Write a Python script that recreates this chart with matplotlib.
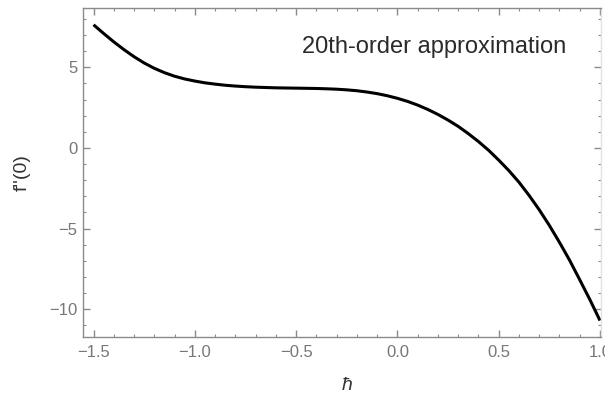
import matplotlib
matplotlib.use("Agg")
import matplotlib.pyplot as plt
from matplotlib.ticker import MultipleLocator

plt.rcParams['font.family'] = ['Liberation Sans', 'DejaVu Sans']

# Data
hbar = [-1.5, -1.45, -1.4, -1.35, -1.3, -1.25, -1.2, -1.15, -1.1, -1.05,
        -1.0, -0.95, -0.9, -0.85, -0.8, -0.75, -0.7, -0.65, -0.6, -0.55,
        -0.5, -0.45, -0.4, -0.35, -0.3, -0.25, -0.2, -0.15, -0.1, -0.05,
        0.0, 0.05, 0.1, 0.15, 0.2, 0.25, 0.3, 0.35, 0.4, 0.45,
        0.5, 0.55, 0.6, 0.65, 0.7, 0.75, 0.8, 0.85, 0.9, 0.95, 1.0]
fpp0 = [7.64, 7.10, 6.58, 6.10, 5.66, 5.27, 4.94, 4.67, 4.45, 4.28,
        4.15, 4.04, 3.96, 3.89, 3.84, 3.80, 3.77, 3.75, 3.73, 3.72,
        3.71, 3.70, 3.69, 3.67, 3.645, 3.605, 3.55, 3.47, 3.37, 3.24,
        3.08, 2.89, 2.66, 2.39, 2.08, 1.73, 1.34, 0.89, 0.40, -0.14,
        -0.75, -1.40, -2.12, -2.94, -3.83, -4.80, -5.85, -6.96, -8.17, -9.40, -10.70]
x_ticks = [-1.5, -1.0, -0.5, 0.0, 0.5, 1.0]
y_ticks = [-10, -5, 0, 5]
annotation = "20th-order approximation"

fig = plt.figure(figsize=(6.05, 3.97), dpi=100)
W, H = 605, 397
ax = fig.add_axes([83 / W, 1 - 337 / H, (601 - 83) / W, (337 - 8) / H])

ax.plot(hbar, fpp0, color='black', lw=2.2, solid_capstyle='butt')

ax.set_xlim(-1.552, 1.005)
ax.set_ylim(-11.72, 8.68)
ax.set_xticks(x_ticks)
ax.set_xticklabels([f"{v:.1f}".replace('-', '\u2212') for v in x_ticks])
ax.set_yticks(y_ticks)
ax.set_yticklabels([str(v).replace('-', '\u2212') for v in y_ticks])
ax.xaxis.set_minor_locator(MultipleLocator(0.1))
ax.yaxis.set_minor_locator(MultipleLocator(1))

spine_c = '#8a8a8a'
for s in ['left', 'bottom', 'top']:
    ax.spines[s].set_color(spine_c)
    ax.spines[s].set_linewidth(1.0)
ax.spines['right'].set_color('#e2e2e2')
ax.spines['right'].set_linewidth(1.0)

ax.tick_params(which='both', direction='in', top=True, right=True,
               color=spine_c, labelcolor='#777777', labelsize=12)
ax.tick_params(which='major', length=5, width=1.0)
ax.tick_params(which='minor', length=2.5, width=0.8)
ax.tick_params(axis='x', which='major', pad=6)
ax.tick_params(axis='y', which='major', pad=4)

ax.text(0.423, 0.881, annotation, transform=ax.transAxes,
        fontsize=17, color='#2a2a2a', ha='left', va='center')

ax.set_ylabel("f''(0)", fontsize=14, color='#333333')
ax.yaxis.set_label_coords(-0.10, 0.5)
ax.set_xlabel("ħ", fontsize=14, color='#333333', style='italic')
ax.xaxis.set_label_coords(0.51, -0.122)

fig.savefig("out.png", dpi=100)
